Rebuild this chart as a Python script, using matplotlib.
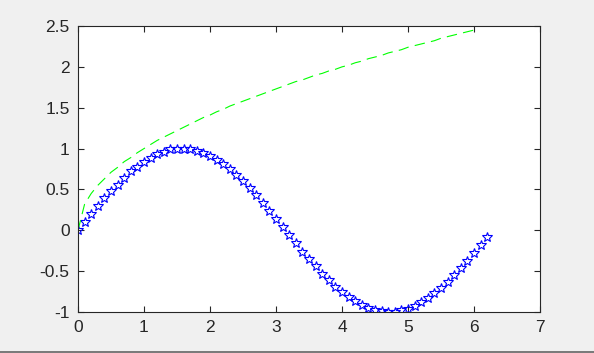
import matplotlib
matplotlib.use("Agg")
import matplotlib.pyplot as plt
from matplotlib.lines import Line2D

x_sin = [0.0, 0.1, 0.2, 0.3, 0.4, 0.5, 0.6, 0.7, 0.8, 0.9,
         1.0, 1.1, 1.2, 1.3, 1.4, 1.5, 1.6, 1.7, 1.8, 1.9,
         2.0, 2.1, 2.2, 2.3, 2.4, 2.5, 2.6, 2.7, 2.8, 2.9,
         3.0, 3.1, 3.2, 3.3, 3.4, 3.5, 3.6, 3.7, 3.8, 3.9,
         4.0, 4.1, 4.2, 4.3, 4.4, 4.5, 4.6, 4.7, 4.8, 4.9,
         5.0, 5.1, 5.2, 5.3, 5.4, 5.5, 5.6, 5.7, 5.8, 5.9,
         6.0, 6.1, 6.2]
y_sin = [0.00, 0.10, 0.20, 0.30, 0.39, 0.48, 0.56, 0.64, 0.72, 0.78,
         0.84, 0.89, 0.93, 0.96, 0.99, 1.00, 1.00, 0.99, 0.97, 0.95,
         0.91, 0.86, 0.81, 0.75, 0.68, 0.60, 0.52, 0.43, 0.33, 0.24,
         0.14, 0.04, -0.06, -0.16, -0.26, -0.35, -0.44, -0.53, -0.61, -0.69,
         -0.76, -0.82, -0.87, -0.92, -0.95, -0.98, -0.99, -1.00, -1.00, -0.98,
         -0.96, -0.93, -0.88, -0.83, -0.77, -0.71, -0.63, -0.55, -0.46, -0.37,
         -0.28, -0.18, -0.08]

x_sqrt = [0.0, 0.1, 0.2, 0.3, 0.4, 0.5, 0.6, 0.7, 0.8, 0.9,
          1.0, 1.1, 1.2, 1.3, 1.4, 1.5, 1.6, 1.7, 1.8, 1.9,
          2.0, 2.1, 2.2, 2.3, 2.4, 2.5, 2.6, 2.7, 2.8, 2.9,
          3.0, 3.1, 3.2, 3.3, 3.4, 3.5, 3.6, 3.7, 3.8, 3.9,
          4.0, 4.1, 4.2, 4.3, 4.4, 4.5, 4.6, 4.7, 4.8, 4.9,
          5.0, 5.1, 5.2, 5.3, 5.4, 5.5, 5.6, 5.7, 5.8, 5.9,
          6.0]
y_sqrt = [0.00, 0.32, 0.45, 0.55, 0.63, 0.71, 0.77, 0.84, 0.89, 0.95,
          1.00, 1.05, 1.10, 1.14, 1.18, 1.22, 1.26, 1.30, 1.34, 1.38,
          1.41, 1.45, 1.48, 1.52, 1.55, 1.58, 1.61, 1.64, 1.67, 1.70,
          1.73, 1.76, 1.79, 1.82, 1.84, 1.87, 1.90, 1.92, 1.95, 1.97,
          2.00, 2.02, 2.05, 2.07, 2.10, 2.12, 2.14, 2.17, 2.19, 2.21,
          2.24, 2.26, 2.28, 2.30, 2.32, 2.35, 2.37, 2.39, 2.41, 2.43,
          2.45]

x_ticks = [0, 1, 2, 3, 4, 5, 6, 7]
y_ticks = [-1, -0.5, 0, 0.5, 1, 1.5, 2, 2.5]
y_tick_labels = ["-1", "-0.5", "0", "0.5", "1", "1.5", "2", "2.5"]

plt.rcParams['font.family'] = ['Liberation Sans', 'DejaVu Sans']
plt.rcParams['lines.scale_dashes'] = False

fig = plt.figure(figsize=(5.94, 3.53), dpi=100, facecolor=(240/255, 240/255, 240/255))
ax = fig.add_axes([78/594, 1 - 312/353, (540 - 78)/594, (312 - 26)/353])
ax.set_facecolor('white')

ax.plot(x_sin, y_sin, linestyle='none', marker='*', markersize=7.5,
        markerfacecolor='none', markeredgecolor=(0, 0, 1), markeredgewidth=0.8)
ax.plot(x_sqrt, y_sqrt, color=(0, 1, 0), linewidth=0.8, linestyle=(0, (7.5, 4.5)))

ax.set_xlim(0, 7)
ax.set_ylim(-1, 2.5)
ax.set_xticks(x_ticks)
ax.set_xticklabels([str(t) for t in x_ticks])
ax.set_yticks(y_ticks)
ax.set_yticklabels(y_tick_labels)

dark = (38/255, 38/255, 38/255)
for s in ax.spines.values():
    s.set_color(dark)
    s.set_linewidth(0.8)
ax.tick_params(direction='in', length=4, width=0.8, colors=dark, labelsize=12.5,
               top=True, right=True, pad=6)

fig.add_artist(Line2D([0, 1], [0.8/353, 0.8/353], transform=fig.transFigure,
                      color=(100/255, 100/255, 100/255), linewidth=1.2))

fig.savefig('out.png', dpi=100, facecolor=fig.get_facecolor())
